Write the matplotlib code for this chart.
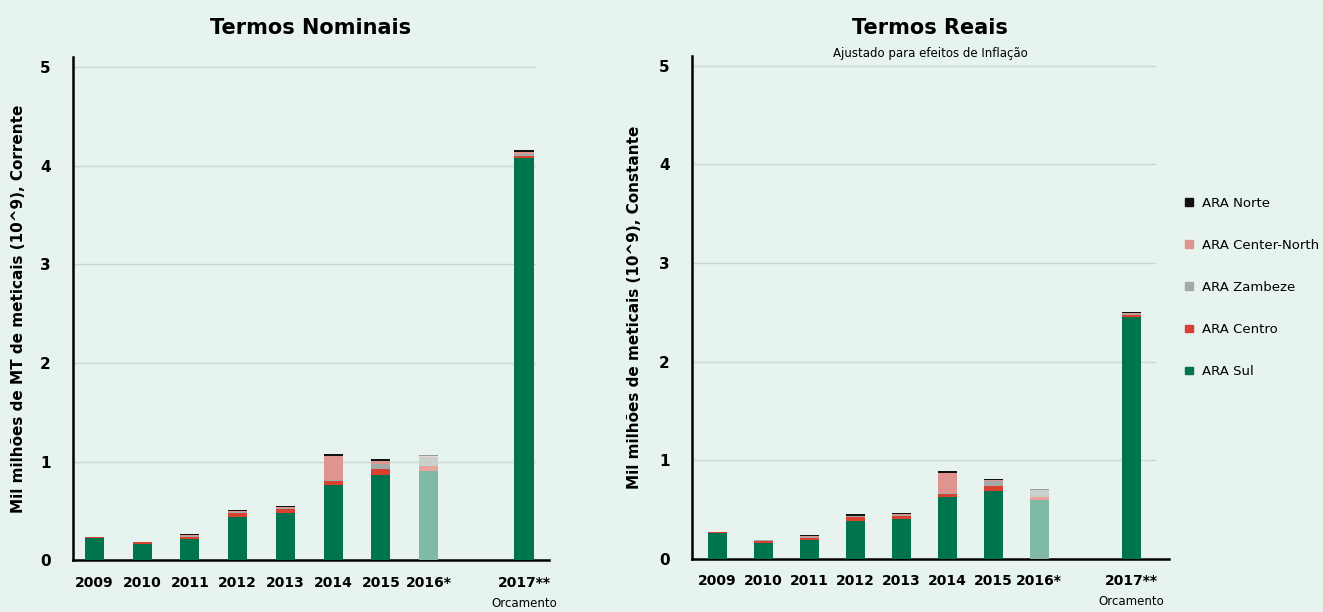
import numpy as np
import matplotlib.pyplot as plt
from matplotlib.patches import Patch

plt.rcParams['font.family'] = ['DejaVu Sans']

# ---------------- data ----------------
years = ['2009', '2010', '2011', '2012', '2013', '2014', '2015', '2016*', '2017**']
pos = [0, 1, 2, 3, 4, 5, 6, 7, 9]
series = ['ARA Sul', 'ARA Centro', 'ARA Zambeze', 'ARA Center-North', 'ARA Norte']

# nominal (current) values, 10^9 MT
nom_sul = [0.23, 0.169, 0.214, 0.44, 0.477, 0.764, 0.869, 0.909, 4.078]
nom_centro = [0.01, 0.015, 0.026, 0.043, 0.044, 0.038, 0.054, 0.045, 0.021]
nom_zambeze = [0.0, 0.004, 0.01, 0.008, 0.01, 0.01, 0.054, 0.091, 0.02]
nom_cnorth = [0.0, 0.0, 0.004, 0.008, 0.007, 0.249, 0.027, 0.013, 0.02]
nom_norte = [0.0, 0.002, 0.014, 0.016, 0.016, 0.02, 0.021, 0.01, 0.02]

# real (constant) values
real_sul = [0.26, 0.162, 0.19, 0.388, 0.405, 0.631, 0.689, 0.601, 2.45]
real_centro = [0.01, 0.017, 0.026, 0.038, 0.034, 0.028, 0.048, 0.027, 0.02]
real_zambeze = [0.0, 0.011, 0.01, 0.007, 0.007, 0.007, 0.05, 0.068, 0.01]
real_cnorth = [0.0, 0.0, 0.004, 0.007, 0.007, 0.206, 0.013, 0.006, 0.01]
real_norte = [0.0, 0.0, 0.013, 0.013, 0.016, 0.02, 0.014, 0.007, 0.015]

colors = ['#00734f', '#d9402f', '#a4aaa6', '#e0948f', '#111111']
# 2016 is an estimate -> lighter shades
light = ['#80baa7', '#e9a29c', '#c9d1cd', '#f1d2cf', '#9a9a9a']
bg = '#e6f3ee'

fig = plt.figure(figsize=(13.23, 6.12), dpi=100, facecolor=bg)
ax1 = fig.add_axes([0.0552, 0.0843, 0.360, 0.822])
ax2 = fig.add_axes([0.523, 0.0866, 0.3606, 0.822])


def draw(ax, data, width):
    ax.set_facecolor(bg)
    bottom = np.zeros(len(pos))
    for k, vals in enumerate(data):
        cols = [light[k] if y == '2016*' else colors[k] for y in years]
        ax.bar(pos, vals, width, bottom=bottom, color=cols, edgecolor='none', zorder=3)
        bottom = bottom + np.array(vals)
    ax.set_ylim(0, 5.1)
    ax.set_yticks([0, 1, 2, 3, 4, 5])
    ax.set_yticklabels(['0', '1', '2', '3', '4', '5'], fontweight='bold', fontsize=11)
    ax.set_xticks(pos)
    ax.set_xticklabels(years, fontweight='bold', fontsize=10)
    ax.tick_params(axis='y', length=0, pad=16)
    ax.tick_params(axis='x', length=0, pad=11)
    for g in [1, 2, 3, 4, 5]:
        ax.axhline(g, xmin=0.0, xmax=0.97, color='#cdd6d2', lw=1, zorder=1)
    for s in ['top', 'right']:
        ax.spines[s].set_visible(False)
    ax.spines['left'].set_linewidth(1.8)
    ax.spines['bottom'].set_linewidth(1.8)
    ax.annotate('Orcamento', xy=(9, 0), xycoords=('data', 'axes fraction'),
                xytext=(0, -26), textcoords='offset points', ha='center', va='top', fontsize=8.5)


draw(ax1, [nom_sul, nom_centro, nom_zambeze, nom_cnorth, nom_norte], 0.4)
draw(ax2, [real_sul, real_centro, real_zambeze, real_cnorth, real_norte], 0.41)
ax1.set_xlim(-0.45, 9.53)
ax2.set_xlim(-0.55, 9.82)

ax1.set_ylabel('Mil milhões de MT de meticais (10^9), Corrente', fontweight='bold', fontsize=11, labelpad=10)
ax2.set_ylabel('Mil milhões de meticais (10^9), Constante', fontweight='bold', fontsize=11, labelpad=12)

fig.text(0.235, 0.955, 'Termos Nominais', ha='center', va='center', fontweight='bold', fontsize=15)
fig.text(0.703, 0.955, 'Termos Reais', ha='center', va='center', fontweight='bold', fontsize=15)
fig.text(0.703, 0.913, 'Ajustado para efeitos de Inflação', ha='center', va='center', fontsize=8.5)

handles = [Patch(color=colors[k], label=series[k]) for k in range(5)][::-1]
fig.legend(handles=handles, loc='upper left', bbox_to_anchor=(0.896, 0.678), frameon=False,
           fontsize=9.5, labelspacing=2.2, handlelength=0.55, handleheight=0.55, handletextpad=0.7,
           borderaxespad=0, borderpad=0)

plt.savefig('out.png', dpi=100, facecolor=bg)
